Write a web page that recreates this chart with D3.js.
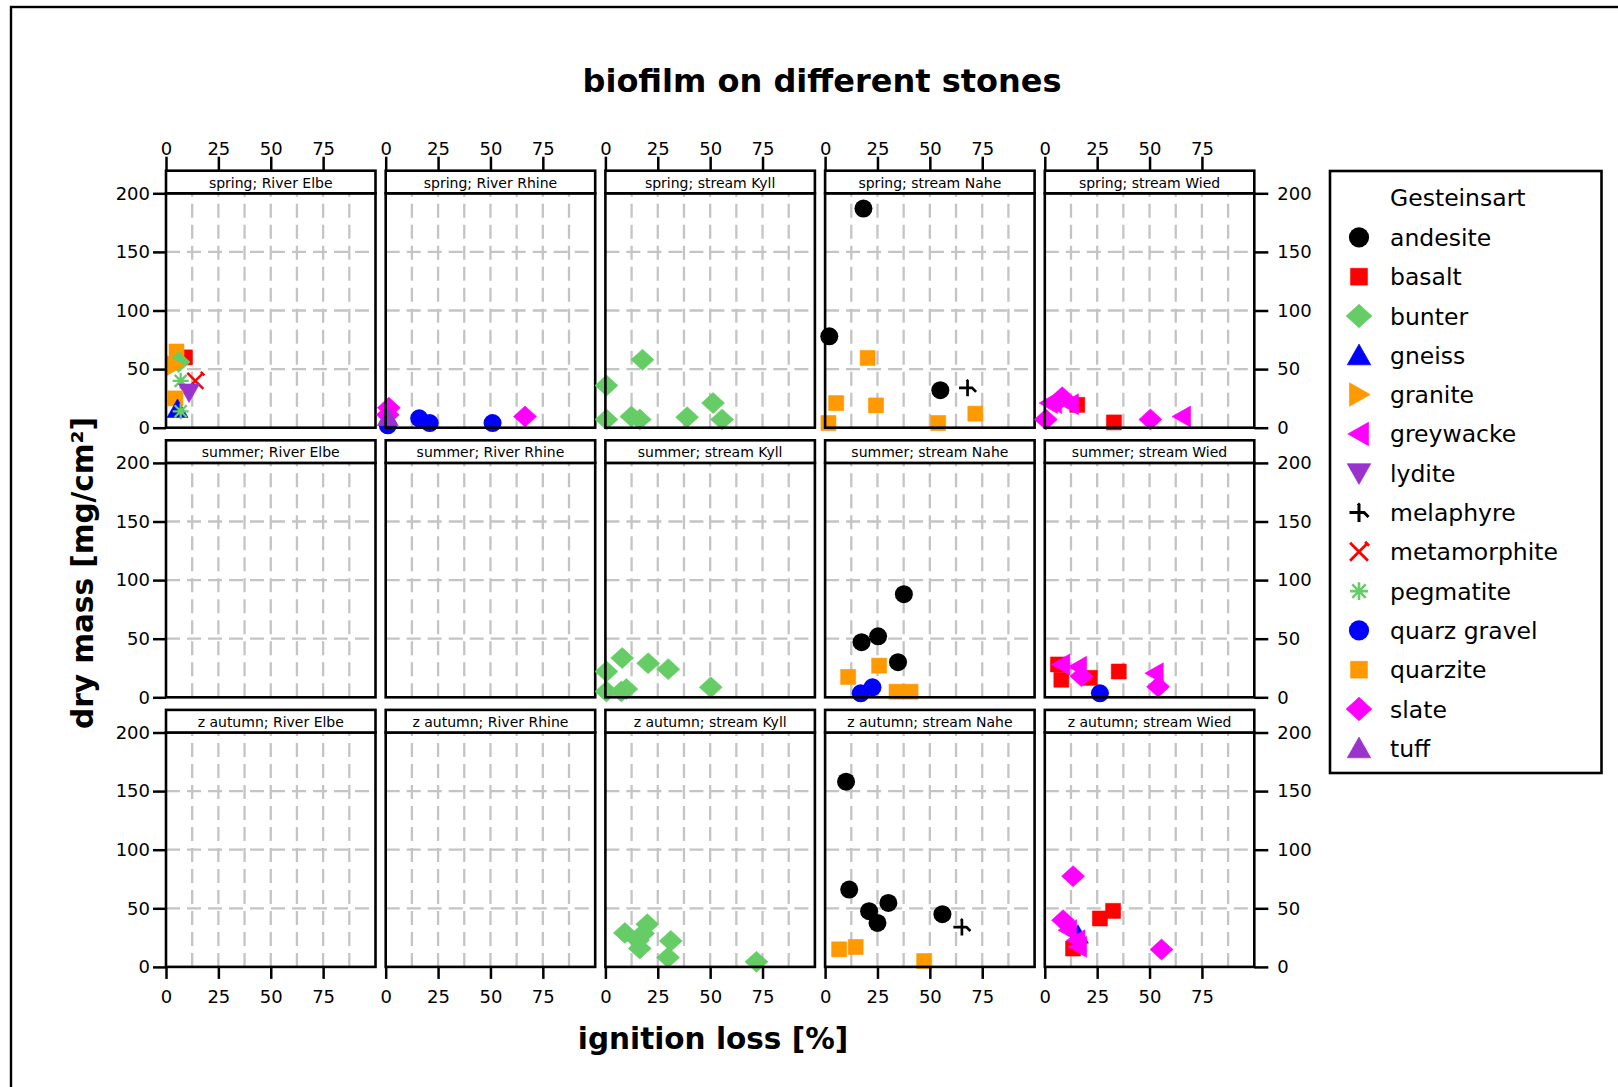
<!DOCTYPE html>
<html>
<head>
<meta charset="utf-8">
<script src="https://cdn.jsdelivr.net/npm/d3@7"></script>
<style>
  html, body { margin: 0; padding: 0; background: #fff; }
  svg { display: block; font-family: "DejaVu Sans", Verdana, sans-serif; }
</style>
</head>
<body>
<svg id="chart" width="1618" height="1087"></svg>
<script>
// ---- data ---------------------------------------------------------------
const seasons = ["spring", "summer", "z autumn"];
const rivers = ["River Elbe", "River Rhine", "stream Kyll", "stream Nahe", "stream Wied"];
const stoneTypes = ["andesite", "basalt", "bunter", "gneiss", "granite", "greywacke", "lydite",
  "melaphyre", "metamorphite", "pegmatite", "quarz gravel", "quarzite", "slate", "tuff"];
const xTicks = [0, 25, 50, 75];
const yTicks = [0, 50, 100, 150, 200];

// [river, stone, ignition loss %, dry mass mg/cm²]
const springPoints = [
  ["River Elbe", "basalt", 9, 60], ["River Elbe", "quarzite", 5, 65], ["River Elbe", "bunter", 6, 56],
  ["River Elbe", "granite", 4, 53], ["River Elbe", "pegmatite", 7, 40], ["River Elbe", "metamorphite", 14, 40],
  ["River Elbe", "lydite", 11, 30], ["River Elbe", "quarzite", 4.5, 25], ["River Elbe", "gneiss", 5.5, 16],
  ["River Elbe", "pegmatite", 7, 14],
  ["River Rhine", "quarz gravel", 1, 2], ["River Rhine", "slate", 1, 11], ["River Rhine", "slate", 1.5, 17],
  ["River Rhine", "tuff", 1, 9], ["River Rhine", "quarz gravel", 16, 8], ["River Rhine", "quarz gravel", 21, 4],
  ["River Rhine", "quarz gravel", 51, 4], ["River Rhine", "slate", 66.5, 9.5],
  ["stream Kyll", "bunter", 17.7, 58], ["stream Kyll", "bunter", 0.5, 36], ["stream Kyll", "bunter", 0.5, 7],
  ["stream Kyll", "bunter", 12.4, 9.5], ["stream Kyll", "bunter", 16.4, 7], ["stream Kyll", "bunter", 39, 9],
  ["stream Kyll", "bunter", 51.4, 21], ["stream Kyll", "bunter", 55.7, 7],
  ["stream Nahe", "andesite", 18.3, 187], ["stream Nahe", "andesite", 2, 78], ["stream Nahe", "quarzite", 20.3, 59.5],
  ["stream Nahe", "quarzite", 5.3, 21], ["stream Nahe", "quarzite", 24.3, 19], ["stream Nahe", "quarzite", 1.6, 4],
  ["stream Nahe", "andesite", 55, 32], ["stream Nahe", "melaphyre", 68, 34], ["stream Nahe", "quarzite", 54, 4],
  ["stream Nahe", "quarzite", 71.7, 12],
  ["stream Wied", "basalt", 15.5, 19.5], ["stream Wied", "greywacke", 2, 21], ["stream Wied", "greywacke", 4, 21],
  ["stream Wied", "slate", 8.3, 26], ["stream Wied", "slate", 0.5, 7], ["stream Wied", "greywacke", 12, 20],
  ["stream Wied", "basalt", 33, 4.5], ["stream Wied", "slate", 50.4, 7], ["stream Wied", "greywacke", 65.5, 9.5]
];

const summerPoints = [
  ["stream Kyll", "bunter", 8, 33.5], ["stream Kyll", "bunter", 20.4, 29], ["stream Kyll", "bunter", 30, 24],
  ["stream Kyll", "bunter", 0.5, 22], ["stream Kyll", "bunter", 0.5, 5], ["stream Kyll", "bunter", 7.6, 5],
  ["stream Kyll", "bunter", 10, 7], ["stream Kyll", "bunter", 50.3, 8.5],
  ["stream Nahe", "andesite", 37.6, 88], ["stream Nahe", "andesite", 25.3, 52], ["stream Nahe", "andesite", 17.4, 47],
  ["stream Nahe", "andesite", 34.8, 30], ["stream Nahe", "quarzite", 25.8, 27], ["stream Nahe", "quarzite", 11, 17.4],
  ["stream Nahe", "quarz gravel", 22.6, 8.5], ["stream Nahe", "quarz gravel", 17, 3.4],
  ["stream Nahe", "quarzite", 34.1, 4.8], ["stream Nahe", "quarzite", 40.8, 4.8],
  ["stream Wied", "basalt", 6.3, 28], ["stream Wied", "basalt", 7.9, 15], ["stream Wied", "basalt", 21.5, 16.6],
  ["stream Wied", "basalt", 35.3, 22], ["stream Wied", "greywacke", 7.9, 28], ["stream Wied", "greywacke", 15.9, 26],
  ["stream Wied", "slate", 17.5, 18], ["stream Wied", "quarz gravel", 26.3, 3.4], ["stream Wied", "greywacke", 52.5, 20.5],
  ["stream Wied", "slate", 54.1, 9]
];

const autumnPoints = [
  ["stream Kyll", "bunter", 9.3, 29], ["stream Kyll", "bunter", 20, 36.4], ["stream Kyll", "bunter", 18, 28.5],
  ["stream Kyll", "bunter", 15.6, 22.8], ["stream Kyll", "bunter", 16.4, 15.7], ["stream Kyll", "bunter", 31.2, 22.2],
  ["stream Kyll", "bunter", 29.9, 8], ["stream Kyll", "bunter", 72.1, 4.3],
  ["stream Nahe", "andesite", 10, 158], ["stream Nahe", "andesite", 11.5, 66], ["stream Nahe", "andesite", 30.2, 54.6],
  ["stream Nahe", "andesite", 21, 47.5], ["stream Nahe", "andesite", 25, 37.5], ["stream Nahe", "andesite", 56, 45],
  ["stream Nahe", "melaphyre", 65.3, 34], ["stream Nahe", "quarzite", 14.6, 17], ["stream Nahe", "quarzite", 6.7, 15],
  ["stream Nahe", "quarzite", 47.3, 5],
  ["stream Wied", "gneiss", 15.8, 27.5], ["stream Wied", "slate", 13.5, 77.4], ["stream Wied", "basalt", 32.6, 47.8],
  ["stream Wied", "basalt", 26.3, 41.3], ["stream Wied", "basalt", 13.5, 15.7], ["stream Wied", "slate", 8.7, 39.8],
  ["stream Wied", "greywacke", 11.1, 31.3], ["stream Wied", "greywacke", 15.1, 22.8], ["stream Wied", "greywacke", 15.9, 17.1],
  ["stream Wied", "slate", 55.7, 14.8]
];

const seasonPoints = [springPoints, summerPoints, autumnPoints];

// ---- symbol styling per stone type ---------------------------------------
const stoneColor = {
  "andesite": "#000000", "basalt": "#ff0000", "bunter": "#66cc66", "gneiss": "#0000ff",
  "granite": "#ff9900", "greywacke": "#ff00ff", "lydite": "#9933cc", "melaphyre": "#000000",
  "metamorphite": "#ff0000", "pegmatite": "#66cc66", "quarz gravel": "#0000ff",
  "quarzite": "#ff9900", "slate": "#ff00ff", "tuff": "#9933cc"
};
const stoneShape = {
  "andesite": "circle", "basalt": "square", "bunter": "diamond", "gneiss": "triUp",
  "granite": "triRight", "greywacke": "triLeft", "lydite": "triDown", "melaphyre": "hookPlus",
  "metamorphite": "cross", "pegmatite": "asterisk", "quarz gravel": "circle",
  "quarzite": "square", "slate": "diamond", "tuff": "triUp"
};

function drawSymbol(sel, stone) {
  const shape = stoneShape[stone];
  const col = stoneColor[stone];
  const filled = (d) => sel.append("path").attr("d", d).attr("fill", col).attr("stroke", col).attr("stroke-width", 0.6);
  const lined = (d, w) => sel.append("path").attr("d", d).attr("fill", "none").attr("stroke", col)
    .attr("stroke-width", w).attr("stroke-linecap", "butt");
  switch (shape) {
    case "circle": sel.append("circle").attr("r", 9).attr("fill", col); break;
    case "square": filled("M-7.5,-7.5H7.5V7.5H-7.5Z"); break;
    case "diamond": filled("M0,-10.5L11.5,0L0,10.5L-11.5,0Z"); break;
    case "triUp": filled("M0,-10L10.5,8.5L-10.5,8.5Z"); break;
    case "triDown": filled("M0,10L10.5,-8.5L-10.5,-8.5Z"); break;
    case "triRight": filled("M10,0L-8.5,-10.5L-8.5,10.5Z"); break;
    case "triLeft": filled("M-10,0L8.5,-10.5L8.5,10.5Z"); break;
    case "cross": lined("M-8,-8L8,8M-8,8L8,-8M5.5,-9L9,-5.5", 2.5); break;
    case "asterisk": lined("M-8,0H8M0,-8V8M-6,-6L6,6M-6,6L6,-6", 2.3); break;
    case "hookPlus": lined("M-8.5,0H4.5L8.5,4M-1,-8L0,-7V8.5", 2.7); break;
  }
}

// ---- layout --------------------------------------------------------------
const svg = d3.select("#chart");
const colLeft0 = 166, colStep = 219.7, panelW = 209.5;
const rowTop0 = 170.7, rowStep = 269.6, stripH = 22.6, plotH = 234.4;

const x = d3.scaleLinear().domain([0, 100]).range([0, panelW]);
const y = d3.scaleLinear().domain([0, 200]).range([plotH, 0]);

// outer frame
svg.append("rect").attr("x", 11).attr("y", 7).attr("width", 1640).attr("height", 1120)
  .attr("fill", "none").attr("stroke", "#000").attr("stroke-width", 2.4);

// title
svg.append("text").attr("x", 822).attr("y", 92).attr("text-anchor", "middle")
  .attr("font-size", 32).attr("font-weight", "bold").text("biofilm on different stones");

function styleAxis(g) {
  g.select(".domain").remove();
  g.selectAll(".tick line").attr("stroke", "#000").attr("stroke-width", 2.5);
  g.selectAll(".tick text").attr("font-size", 18).attr("fill", "#000")
    .attr("font-family", "'DejaVu Sans', Verdana, sans-serif");
}

const gridDash = "14 7";

seasons.forEach((season, r) => {
  const top = rowTop0 + r * rowStep;
  rivers.forEach((river, c) => {
    const left = colLeft0 + c * colStep;
    const panel = svg.append("g").attr("transform", `translate(${left},${top + stripH})`);

    // grid
    const grid = panel.append("g").attr("stroke", "#c4c4c4").attr("stroke-width", 2.3)
      .attr("stroke-dasharray", gridDash);
    d3.range(12.5, 100, 12.5).forEach(v => {
      grid.append("line").attr("x1", x(v)).attr("x2", x(v)).attr("y1", plotH).attr("y2", 0);
    });
    [50, 100, 150].forEach(v => {
      grid.append("line").attr("x1", 0).attr("x2", panelW).attr("y1", y(v)).attr("y2", y(v));
    });

    // points
    const pts = seasonPoints[r].filter(d => d[0] === river);
    pts.forEach(d => {
      const g = panel.append("g").attr("transform", `translate(${x(d[2])},${y(d[3])})`);
      drawSymbol(g, d[1]);
    });

    // panel frame
    panel.append("rect").attr("x", 0).attr("y", 0).attr("width", panelW).attr("height", plotH)
      .attr("fill", "none").attr("stroke", "#000").attr("stroke-width", 2.6);

    // strip
    const strip = svg.append("g").attr("transform", `translate(${left},${top})`);
    strip.append("rect").attr("width", panelW).attr("height", stripH)
      .attr("fill", "#fff").attr("stroke", "#000").attr("stroke-width", 2.6);
    strip.append("text").attr("x", panelW / 2).attr("y", stripH - 5.5).attr("text-anchor", "middle")
      .attr("font-size", 14).text(`${season}; ${river}`);

    // axes
    if (r === 0) {
      svg.append("g").attr("transform", `translate(${left},${top})`)
        .call(d3.axisTop(x).tickValues(xTicks).tickSize(14).tickPadding(2).tickFormat(d3.format("d")))
        .call(styleAxis);
    }
    if (r === seasons.length - 1) {
      svg.append("g").attr("transform", `translate(${left},${top + stripH + plotH})`)
        .call(d3.axisBottom(x).tickValues(xTicks).tickSize(12).tickPadding(11).tickFormat(d3.format("d")))
        .call(styleAxis);
    }
    if (c === 0) {
      svg.append("g").attr("transform", `translate(${left},${top + stripH})`)
        .call(d3.axisLeft(y).tickValues(yTicks).tickSize(13).tickPadding(3).tickFormat(d3.format("d")))
        .call(styleAxis);
    }
    if (c === rivers.length - 1) {
      svg.append("g").attr("transform", `translate(${left + panelW},${top + stripH})`)
        .call(d3.axisRight(y).tickValues(yTicks).tickSize(14).tickPadding(9).tickFormat(d3.format("d")))
        .call(styleAxis);
    }
  });
});

// axis titles
svg.append("text").attr("x", 713).attr("y", 1049).attr("text-anchor", "middle")
  .attr("font-size", 29.5).attr("font-weight", "bold").text("ignition loss [%]");
svg.append("text").attr("transform", "translate(93,573) rotate(-90)").attr("text-anchor", "middle")
  .attr("font-size", 29.5).attr("font-weight", "bold").text("dry mass [mg/cm²]");

// legend
const legend = svg.append("g");
legend.append("rect").attr("x", 1330).attr("y", 171).attr("width", 271.5).attr("height", 602)
  .attr("fill", "#fff").attr("stroke", "#000").attr("stroke-width", 2.6);
legend.append("text").attr("x", 1390).attr("y", 206).attr("font-size", 23.5).text("Gesteinsart");
stoneTypes.forEach((s, i) => {
  const cy = 237.4 + i * 39.3;
  const g = legend.append("g").attr("transform", `translate(1359,${cy}) scale(1.12)`);
  drawSymbol(g, s);
  legend.append("text").attr("x", 1390).attr("y", cy + 8.5).attr("font-size", 23.5).text(s);
});
</script>
</body>
</html>
